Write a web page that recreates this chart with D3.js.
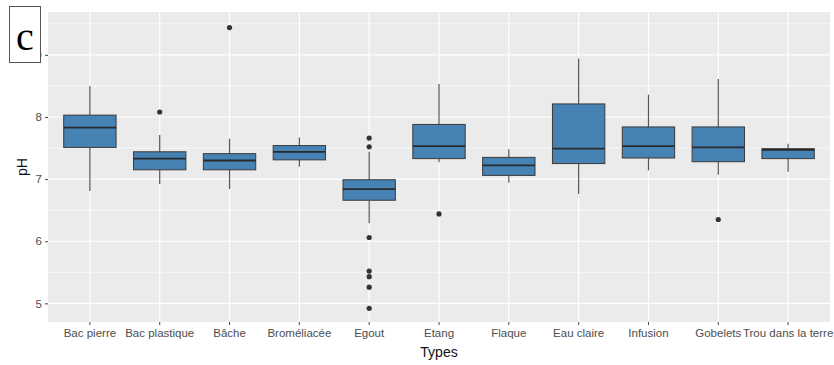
<!DOCTYPE html>
<html>
<head>
<meta charset="utf-8">
<script src="https://cdn.jsdelivr.net/npm/d3@7"></script>
<style>
  body { margin: 0; background: #fff; }
  svg { display: block; }
</style>
</head>
<body>
<div id="chart"></div>
<script>
// Valeurs
const types = ['Bac pierre', 'Bac plastique', 'Bâche', 'Broméliacée', 'Egout', 'Etang',
  'Flaque', 'Eau claire', 'Infusion', 'Gobelets', 'Trou dans la terre'];
const whiskerLow = [6.81, 6.92, 6.84, 7.20, 6.29, 7.27, 6.94, 6.76, 7.14, 7.07, 7.12];
const q1 = [7.51, 7.15, 7.15, 7.31, 6.66, 7.33, 7.06, 7.25, 7.34, 7.28, 7.33];
const medians = [7.83, 7.33, 7.30, 7.44, 6.84, 7.53, 7.22, 7.49, 7.53, 7.51, 7.47];
const q3 = [8.03, 7.44, 7.41, 7.54, 6.99, 7.88, 7.35, 8.21, 7.84, 7.84, 7.49];
const whiskerHigh = [8.50, 7.71, 7.65, 7.67, 7.44, 8.53, 7.48, 8.94, 8.36, 8.61, 7.57];
const outliers = [[], [8.08], [9.44], [], [7.66, 7.52, 6.06, 5.52, 5.43, 5.26, 4.92], [6.44],
  [], [], [], [6.35], []];
const yTicks = [5, 6, 7, 8, 9];
const yMinor = [5.5, 6.5, 7.5, 8.5, 9.5];

const W = 834, H = 365;
const panel = { left: 48, right: 830, top: 12, bottom: 322 };

const svg = d3.select('#chart').append('svg')
  .attr('width', W).attr('height', H);

const x = d3.scaleBand()
  .domain(types)
  .range([panel.left, panel.right])
  .paddingInner(0)
  .paddingOuter(0.1);

const y = d3.scaleLinear()
  .domain([4.70, 9.69])
  .range([panel.bottom, panel.top]);

const cx = d => x(d) + x.bandwidth() / 2;
const boxW = x.bandwidth() * 0.75;

// Fond du panneau
svg.append('rect')
  .attr('x', panel.left).attr('y', panel.top)
  .attr('width', panel.right - panel.left)
  .attr('height', panel.bottom - panel.top)
  .attr('fill', '#ebebeb');

// Grille mineure
svg.selectAll('.minor')
  .data(yMinor)
  .enter().append('line')
  .attr('x1', panel.left).attr('x2', panel.right)
  .attr('y1', d => y(d)).attr('y2', d => y(d))
  .attr('stroke', '#fff').attr('stroke-width', 0.6);

// Grille majeure
svg.selectAll('.major-y')
  .data(yTicks)
  .enter().append('line')
  .attr('x1', panel.left).attr('x2', panel.right)
  .attr('y1', d => y(d)).attr('y2', d => y(d))
  .attr('stroke', '#fff').attr('stroke-width', 1.2);

svg.selectAll('.major-x')
  .data(types)
  .enter().append('line')
  .attr('x1', d => cx(d)).attr('x2', d => cx(d))
  .attr('y1', panel.top).attr('y2', panel.bottom)
  .attr('stroke', '#fff').attr('stroke-width', 1.2);

// Boîtes
const g = svg.selectAll('.box')
  .data(types)
  .enter().append('g');

g.append('line')
  .attr('x1', d => cx(d)).attr('x2', d => cx(d))
  .attr('y1', (d, i) => y(whiskerHigh[i])).attr('y2', (d, i) => y(q3[i]))
  .attr('stroke', '#555').attr('stroke-width', 1.2);

g.append('line')
  .attr('x1', d => cx(d)).attr('x2', d => cx(d))
  .attr('y1', (d, i) => y(q1[i])).attr('y2', (d, i) => y(whiskerLow[i]))
  .attr('stroke', '#555').attr('stroke-width', 1.2);

g.append('rect')
  .attr('x', d => cx(d) - boxW / 2)
  .attr('y', (d, i) => y(q3[i]))
  .attr('width', boxW)
  .attr('height', (d, i) => y(q1[i]) - y(q3[i]))
  .attr('fill', '#4682b4')
  .attr('stroke', '#3a3a3a').attr('stroke-width', 1);

g.append('line')
  .attr('x1', d => cx(d) - boxW / 2).attr('x2', d => cx(d) + boxW / 2)
  .attr('y1', (d, i) => y(medians[i])).attr('y2', (d, i) => y(medians[i]))
  .attr('stroke', '#2a2a2a').attr('stroke-width', 1.8);

g.each(function (d, i) {
  d3.select(this).selectAll('circle')
    .data(outliers[i])
    .enter().append('circle')
    .attr('cx', cx(d))
    .attr('cy', v => y(v))
    .attr('r', 2.6)
    .attr('fill', '#333');
});

// Axes
const xAxis = svg.append('g')
  .attr('transform', `translate(0,${panel.bottom})`)
  .call(d3.axisBottom(x).tickSize(3).tickPadding(4));
const yAxis = svg.append('g')
  .attr('transform', `translate(${panel.left},0)`)
  .call(d3.axisLeft(y).tickValues(yTicks).tickFormat(d3.format('d')).tickSize(3).tickPadding(3));

[xAxis, yAxis].forEach(a => {
  a.select('.domain').remove();
  a.selectAll('.tick line').attr('stroke', '#444');
  a.selectAll('.tick text')
    .attr('fill', '#4d4d4d')
    .attr('font-family', 'Liberation Sans, Arial, sans-serif')
    .attr('font-size', '11.5px');
});

// Titres des axes
svg.append('text')
  .attr('x', (panel.left + panel.right) / 2)
  .attr('y', 357)
  .attr('text-anchor', 'middle')
  .attr('font-family', 'Liberation Sans, Arial, sans-serif')
  .attr('font-size', '14px')
  .attr('fill', '#111')
  .text('Types');

svg.append('text')
  .attr('transform', `translate(27,${(panel.top + panel.bottom) / 2}) rotate(-90)`)
  .attr('text-anchor', 'middle')
  .attr('font-family', 'Liberation Sans, Arial, sans-serif')
  .attr('font-size', '14px')
  .attr('fill', '#111')
  .text('pH');

// Étiquette "c" (cache le 9 comme sur la figure)
svg.append('rect')
  .attr('x', 9.5).attr('y', 6.5)
  .attr('width', 31).attr('height', 56)
  .attr('fill', '#fff')
  .attr('stroke', '#555').attr('stroke-width', 1);

svg.append('text')
  .attr('x', 25).attr('y', 50)
  .attr('text-anchor', 'middle')
  .attr('font-family', 'Liberation Serif, Times New Roman, serif')
  .attr('font-size', '40px')
  .attr('fill', '#000')
  .text('c');
</script>
</body>
</html>
